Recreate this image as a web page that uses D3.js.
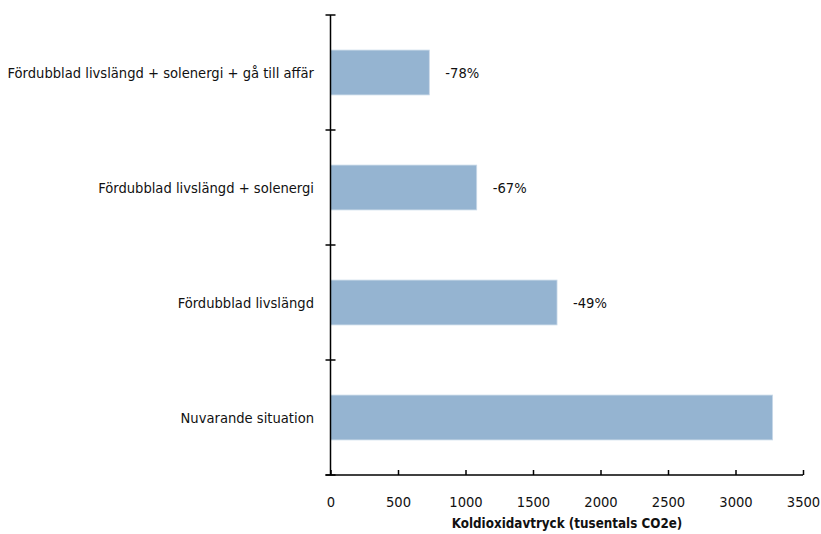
<!DOCTYPE html>
<html>
<head>
<meta charset="utf-8">
<script src="https://cdn.jsdelivr.net/npm/d3@7"></script>
<style>
  body { margin: 0; background: #fff; }
  svg text { font-family: "DejaVu Sans Condensed", "Liberation Sans Narrow", sans-serif; fill: #111; }
</style>
</head>
<body>
<svg id="chart" width="821" height="534"></svg>
<script>
// Scenario categories, top to bottom
const categories = [
  "Fördubblad livslängd + solenergi + gå till affär",
  "Fördubblad livslängd + solenergi",
  "Fördubblad livslängd",
  "Nuvarande situation"
];
// Carbon footprint, thousands of tonnes CO2e
const values = [732, 1083, 1678, 3275];
// Reduction labels relative to the current situation
const reductionLabels = ["-78%", "-67%", "-49%", ""];
const xTicks = [0, 500, 1000, 1500, 2000, 2500, 3000, 3500];
const xTitle = "Koldioxidavtryck (tusentals CO2e)";

const svg = d3.select("#chart");
const plotLeft = 330.5, plotRight = 803, plotTop = 15, plotBottom = 475;
const fontSize = 14.6;

const x = d3.scaleLinear().domain([0, 3500]).range([plotLeft, plotRight]);
const y = d3.scaleBand().domain(categories).range([plotTop, plotBottom]).paddingInner(0.61).paddingOuter(0.305);

// Bars
svg.append("g").selectAll("rect")
  .data(categories)
  .join("rect")
  .attr("x", x(0))
  .attr("y", d => y(d))
  .attr("width", (d, i) => x(values[i]) - x(0))
  .attr("height", y.bandwidth())
  .attr("fill", "#95b4d1")
  .attr("stroke", "#c9d9e8")
  .attr("stroke-width", 0.8);

// Percentage labels
svg.append("g").selectAll("text")
  .data(categories)
  .join("text")
  .attr("x", (d, i) => x(values[i]) + 16)
  .attr("y", d => y(d) + y.bandwidth() / 2)
  .attr("dy", "0.35em")
  .attr("font-size", fontSize)
  .text((d, i) => reductionLabels[i]);

// Category labels
svg.append("g").selectAll("text")
  .data(categories)
  .join("text")
  .attr("x", 314)
  .attr("y", d => y(d) + y.bandwidth() / 2)
  .attr("dy", "0.35em")
  .attr("text-anchor", "end")
  .attr("font-size", fontSize)
  .text(d => d);

// Y axis with crossing ticks at category boundaries
const yAxis = svg.append("g").attr("stroke", "#000").attr("stroke-width", 1.5);
yAxis.append("line").attr("x1", plotLeft).attr("x2", plotLeft).attr("y1", plotTop).attr("y2", plotBottom);
const boundaries = d3.range(categories.length + 1).map(i => plotTop + i * (plotBottom - plotTop) / categories.length);
yAxis.selectAll("line.tick")
  .data(boundaries)
  .join("line")
  .attr("class", "tick")
  .attr("x1", plotLeft - 5).attr("x2", plotLeft + 5)
  .attr("y1", d => d).attr("y2", d => d);

// X axis
const xAxis = d3.axisBottom(x).tickValues(xTicks).tickFormat(d3.format("d"))
  .tickSize(-5).tickSizeOuter(0).tickPadding(22);
const gx = svg.append("g").attr("transform", `translate(0,${plotBottom})`).call(xAxis);
gx.select(".domain").attr("stroke", "#000").attr("stroke-width", 1.5).attr("d", `M${plotLeft - 5},0H${plotRight}`);
gx.selectAll(".tick line").attr("stroke", "#000").attr("stroke-width", 1.5);
gx.selectAll(".tick text").attr("font-size", fontSize).attr("font-family", null).attr("fill", "#111");

svg.append("text")
  .attr("x", 567)
  .attr("y", 528)
  .attr("text-anchor", "middle")
  .attr("font-size", 13.3)
  .attr("font-weight", "bold")
  .text(xTitle);
</script>
</body>
</html>
